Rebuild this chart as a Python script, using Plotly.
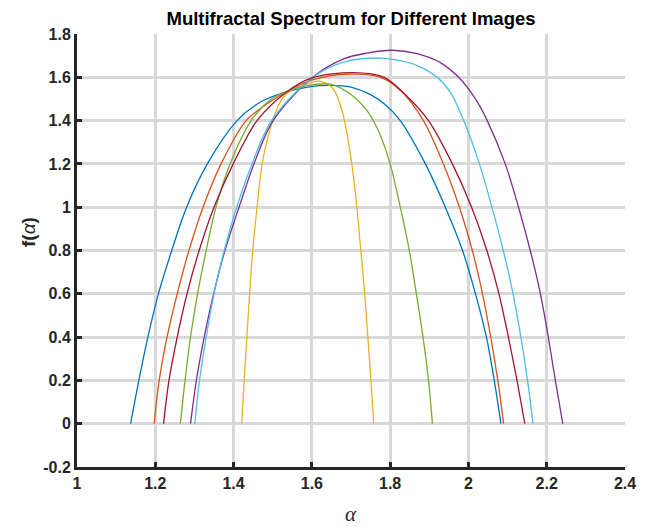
import plotly.graph_objects as go

# ---- data ----
alpha_blue = [1.137, 1.158, 1.181, 1.208, 1.242, 1.280, 1.333, 1.409, 1.468, 1.527, 1.600, 1.647,
              1.700, 1.750, 1.790, 1.826, 1.890, 1.941, 1.985, 2.018, 2.046, 2.066, 2.083]
f_blue = [0, 0.2, 0.4, 0.6, 0.8, 1.0, 1.2, 1.4, 1.485, 1.528, 1.558, 1.563,
          1.555, 1.52, 1.47, 1.4, 1.2, 1.0, 0.8, 0.6, 0.4, 0.2, 0]

alpha_orange = [1.197, 1.210, 1.230, 1.256, 1.286, 1.322, 1.368, 1.432, 1.488, 1.532, 1.600, 1.690,
                1.775, 1.826, 1.885, 1.936, 1.977, 2.010, 2.036, 2.057, 2.075, 2.090]
f_orange = [0, 0.2, 0.4, 0.6, 0.8, 1.0, 1.2, 1.4, 1.48, 1.53, 1.588, 1.614,
            1.6, 1.54, 1.4, 1.2, 1.0, 0.8, 0.6, 0.4, 0.2, 0]

alpha_yellow = [1.421, 1.427, 1.434, 1.441, 1.449, 1.460, 1.473, 1.500, 1.524, 1.545, 1.600, 1.614,
                1.626, 1.655, 1.677, 1.690, 1.702, 1.715, 1.725, 1.735, 1.743, 1.751, 1.758]
f_yellow = [0, 0.2, 0.4, 0.6, 0.8, 1.0, 1.2, 1.4, 1.5, 1.538, 1.577, 1.582,
            1.580, 1.546, 1.446, 1.338, 1.2, 1.0, 0.8, 0.6, 0.4, 0.2, 0]

alpha_purple = [1.290, 1.305, 1.325, 1.349, 1.378, 1.414, 1.452, 1.501, 1.600, 1.681,
                1.741, 1.805, 1.869, 1.928, 1.975, 2.018, 2.048, 2.094, 2.128, 2.158, 2.184,
                2.204, 2.222, 2.241]
f_purple = [0, 0.2, 0.4, 0.6, 0.8, 1.0, 1.2, 1.4, 1.597, 1.685,
            1.712, 1.725, 1.709, 1.668, 1.6, 1.5, 1.4, 1.2, 1.0, 0.8, 0.6,
            0.4, 0.2, 0]

alpha_green = [1.264, 1.276, 1.290, 1.308, 1.330, 1.355, 1.391, 1.445, 1.490, 1.532, 1.600, 1.647,
               1.698, 1.741, 1.770, 1.800, 1.826, 1.849, 1.867, 1.884, 1.898, 1.908]
f_green = [0, 0.2, 0.4, 0.6, 0.8, 1.0, 1.2, 1.4, 1.49, 1.532, 1.565, 1.568,
           1.523, 1.446, 1.353, 1.2, 1.0, 0.8, 0.6, 0.4, 0.2, 0]

alpha_lightblue = [1.301, 1.313, 1.330, 1.350, 1.376, 1.408, 1.447, 1.497, 1.600, 1.681,
                   1.775, 1.826, 1.869, 1.920, 1.954, 1.988, 2.028, 2.060, 2.089, 2.114,
                   2.134, 2.151, 2.165]
f_lightblue = [0, 0.2, 0.4, 0.6, 0.8, 1.0, 1.2, 1.4, 1.597, 1.670,
               1.689, 1.677, 1.654, 1.6, 1.53, 1.4, 1.2, 1.0, 0.8, 0.6,
               0.4, 0.2, 0]

alpha_darkred = [1.221, 1.235, 1.256, 1.281, 1.312, 1.350, 1.399, 1.460, 1.534, 1.600, 1.705,
                 1.785, 1.850, 1.898, 1.959, 2.008, 2.047, 2.078, 2.102,
                 2.124, 2.144]
f_darkred = [0, 0.2, 0.4, 0.6, 0.8, 1.0, 1.2, 1.4, 1.53, 1.597, 1.622,
             1.6, 1.5, 1.4, 1.2, 1.0, 0.8, 0.6, 0.4,
             0.2, 0]

series = [
    ("Image 1", alpha_blue, f_blue, "#0072BD"),
    ("Image 2", alpha_orange, f_orange, "#D95319"),
    ("Image 3", alpha_yellow, f_yellow, "#EDB120"),
    ("Image 4", alpha_purple, f_purple, "#7E2F8E"),
    ("Image 5", alpha_green, f_green, "#77AC30"),
    ("Image 6", alpha_lightblue, f_lightblue, "#4DBEEE"),
    ("Image 7", alpha_darkred, f_darkred, "#A2142F"),
]

x_ticks = [1, 1.2, 1.4, 1.6, 1.8, 2, 2.2, 2.4]
x_ticktext = ["1", "1.2", "1.4", "1.6", "1.8", "2", "2.2", "2.4"]
y_ticks = [-0.2, 0, 0.2, 0.4, 0.6, 0.8, 1, 1.2, 1.4, 1.6, 1.8]
y_ticktext = ["-0.2", "0", "0.2", "0.4", "0.6", "0.8", "1", "1.2", "1.4", "1.6", "1.8"]

fig = go.Figure()
for name, a, f, c in series:
    fig.add_trace(go.Scatter(x=a, y=f, mode="lines", name=name,
                             line=dict(color=c, width=1.3, shape="spline", smoothing=0.9)))

W, H = 654, 527
ML, MR, MT, MB = 77, 29, 34, 60

axis_common = dict(
    showline=True, linecolor="#262626", linewidth=3,
    ticks="inside", ticklen=5, tickwidth=3, tickcolor="#262626",
    showgrid=True, gridcolor="#d8d8d8", gridwidth=3,
    zeroline=False, mirror=False,
    tickfont=dict(family="Liberation Sans, Arial", size=16, color="#262626", weight="bold"),
)

fig.update_layout(
    width=W, height=H,
    margin=dict(l=ML, r=MR, t=MT, b=MB),
    paper_bgcolor="white", plot_bgcolor="white",
    showlegend=False,
    title=dict(text="<b>Multifractal Spectrum for Different Images</b>",
               font=dict(family="Liberation Sans, Arial", size=18.5, color="black"),
               x=(ML + (W - MR)) / 2 / W, xanchor="center",
               y=1 - 19 / H, yanchor="middle", yref="container"),
    xaxis=dict(range=[1, 2.4], tickvals=x_ticks, ticktext=x_ticktext, **axis_common),
    yaxis=dict(range=[-0.2, 1.8], tickvals=y_ticks, ticktext=y_ticktext, **axis_common),
)

fig.add_annotation(text="<i>α</i>", xref="paper", yref="paper",
                   x=0.5, y=-(514 - (H - MB)) / (H - MT - MB), xanchor="center", yanchor="middle",
                   showarrow=False,
                   font=dict(family="Liberation Serif, Times New Roman", size=21, color="#262626"))
fig.add_annotation(text="<b>f(</b><i>α</i><b>)</b>", xref="paper", yref="paper",
                   x=-(ML - 28) / (W - ML - MR), y=(H - MB - 232) / (H - MT - MB),
                   xanchor="center", yanchor="middle", textangle=-90, showarrow=False,
                   font=dict(family="Liberation Sans, Arial", size=19, color="#262626"))

fig.write_html("out.html")
